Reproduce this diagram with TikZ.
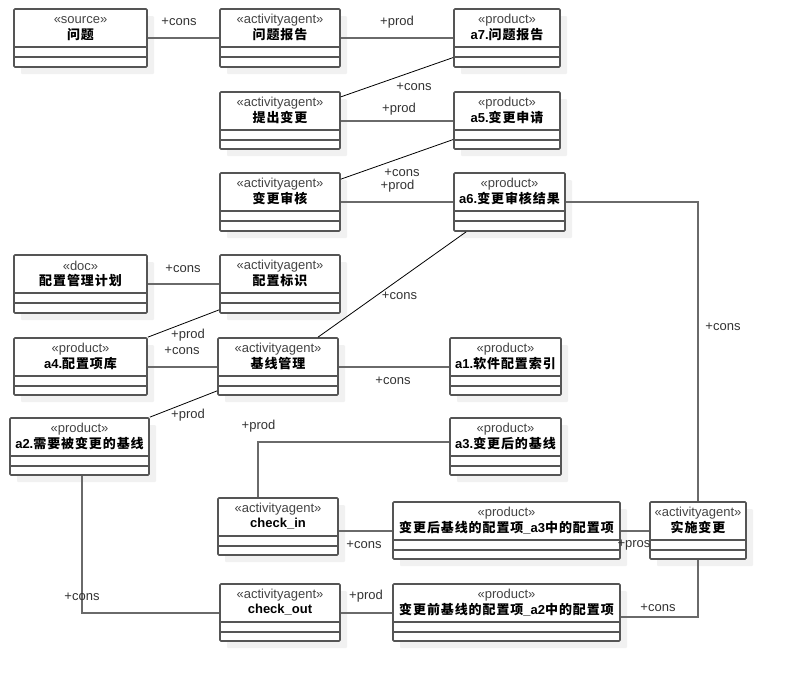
\documentclass[tikz,border=0pt]{standalone}
\usepackage{fontspec}
\setmainfont{Liberation Sans}
\newfontfamily\cjk[LetterSpace=7]{Noto Sans CJK SC}
\usetikzlibrary{fit,shadows}
\definecolor{boxc}{HTML}{555555}
\definecolor{linec}{HTML}{6A6A6A}
\definecolor{shadowc}{HTML}{F1F1F1}
\definecolor{stc}{HTML}{444444}
\definecolor{lblc}{HTML}{333333}
\newcommand\zh[1]{{\cjk\bfseries #1}}
\newcommand\umlcls[7]{%
  \node[cls, fit={(#2,#3) (#4,#5)}] (#1) {};
  \draw[clsline] ([yshift=-39pt]#1.north west) -- ([yshift=-39pt]#1.north east);
  \draw[clsline] ([yshift=-49pt]#1.north west) -- ([yshift=-49pt]#1.north east);
  \node[stereo] (#1-st) at ([yshift=-11.5pt]#1.north) {«#6»};
  \node[ctitle] (#1-tt) at ([yshift=-26.5pt]#1.north) {#7};
}
\begin{document}
\begin{tikzpicture}[x=1pt,y=-1pt,
  cls/.style={draw=boxc, line width=1.7pt, fill=white, rounded corners=1pt, inner sep=0pt,
    drop shadow={shadow xshift=7pt, shadow yshift=-7pt, fill=shadowc, opacity=1}},
  clsline/.style={draw=boxc, line width=1.7pt},
  stereo/.style={font=\fontsize{13}{15}\selectfont, text=stc, inner sep=0pt},
  ctitle/.style={font=\fontsize{13}{15}\selectfont\bfseries, text=black, inner sep=0pt},
  conn/.style={draw=linec, line width=2pt},
  diag/.style={draw=black, line width=0.8pt},
  lbl/.style={font=\fontsize{13}{15}\selectfont, text=lblc, inner sep=0pt}]
\useasboundingbox (0,0) rectangle (785,681);

\umlcls{src}{14}{9}{147}{67}{source}{\zh{问题}}
\umlcls{rep}{220}{9}{340}{67}{activityagent}{\zh{问题报告}}
\umlcls{a7}{454}{9}{560}{67}{product}{a7.\zh{问题报告}}
\umlcls{tcb}{220}{92}{340}{149}{activityagent}{\zh{提出变更}}
\umlcls{a5}{454}{92}{560}{149}{product}{a5.\zh{变更申请}}
\umlcls{shb}{220}{173}{340}{231}{activityagent}{\zh{变更审核}}
\umlcls{a6}{454}{173}{565}{231}{product}{a6.\zh{变更审核结果}}
\umlcls{plan}{14}{255}{147}{313}{doc}{\zh{配置管理计划}}
\umlcls{bs}{220}{255}{340}{313}{activityagent}{\zh{配置标识}}
\umlcls{a4}{14}{338}{147}{395}{product}{a4.\zh{配置项库}}
\umlcls{jx}{218}{338}{338}{395}{activityagent}{\zh{基线管理}}
\umlcls{a1}{450}{338}{561}{395}{product}{a1.\zh{软件配置索引}}
\umlcls{a2}{10}{418}{149}{475}{product}{a2.\zh{需要被变更的基线}}
\umlcls{a3}{450}{418}{561}{475}{product}{a3.\zh{变更后的基线}}
\umlcls{ci}{218}{498}{338}{555}{activityagent}{check\_in}
\umlcls{after}{393}{502}{620}{559}{product}{\zh{变更后基线的配置项}\_a3\zh{中的配置项}}
\umlcls{ss}{650}{502}{746}{559}{activityagent}{\zh{实施变更}}
\umlcls{co}{220}{584}{340}{641}{activityagent}{check\_out}
\umlcls{before}{393}{584}{620}{641}{product}{\zh{变更前基线的配置项}\_a2\zh{中的配置项}}

% connectors
\draw[conn] (src.east) -- (rep.west);
\draw[conn] (rep.east) -- (a7.west);
\draw[diag] ([yshift=-5.7pt]tcb.north east) -- ([yshift=10.3pt]a7.south west);
\draw[conn] (tcb.east) -- (a5.west);
\draw[diag] ([yshift=-7pt]shb.north east) -- ([yshift=10.3pt]a5.south west);
\draw[conn] (shb.east) -- (a6.west);
\draw[conn] (a6.east) -| (ss.north);
\draw[conn] (plan.east) -- (bs.west);
\draw[diag] (a4.north east) -- ([yshift=4pt]bs.south west);
\draw[conn] (a4.east) -- (jx.west);
\draw[diag] ([xshift=40pt]jx.north) -- ([xshift=13pt]a6.south west);
\draw[conn] (jx.east) -- (a1.west);
\draw[diag] (a2.north east) -- ([yshift=5pt]jx.south west);
\coordinate (ciup) at ([xshift=-20pt]ci.north);
\draw[conn] (ciup) |- ([yshift=5pt]a3.west);
\draw[conn] (ci.east |- after.west) -- (after.west);
\draw[conn] (after.east) -- (ss.west);
\coordinate (a2dn) at ([xshift=2pt]a2.south);
\draw[conn] (a2dn) |- (co.west);
\draw[conn] (co.east) -- (before.west);
\draw[conn] (ss.south) |- ([yshift=-4.5pt]before.east);

% labels
\node[lbl] (l1) at (179,22) {+cons};
\node[lbl] (l2) at (397,22) {+prod};
\node[lbl] (l3) at (414,86.5) {+cons};
\node[lbl] (l4) at (399,109.5) {+prod};
\node[lbl] (l5) at (402,172.5) {+cons};
\node[lbl] (l6) at (397.5,186.5) {+prod};
\node[lbl] (l7) at (723,326.5) {+cons};
\node[lbl] (l8) at (183,268.5) {+cons};
\node[lbl] (l9) at (188,335.5) {+prod};
\node[lbl] (l10) at (182,350.5) {+cons};
\node[lbl] (l11) at (399.5,295.5) {+cons};
\node[lbl] (l12) at (393,380.5) {+cons};
\node[lbl] (l13) at (188,415.5) {+prod};
\node[lbl] (l14) at (258.5,426.5) {+prod};
\node[lbl] (l15) at (364,545) {+cons};
\node[lbl] (l16) at (634,545) {+pros};
\node[lbl] (l17) at (82,596.5) {+cons};
\node[lbl] (l18) at (366,596.5) {+prod};
\node[lbl] (l19) at (658,607.5) {+cons};
\end{tikzpicture}
\end{document}
